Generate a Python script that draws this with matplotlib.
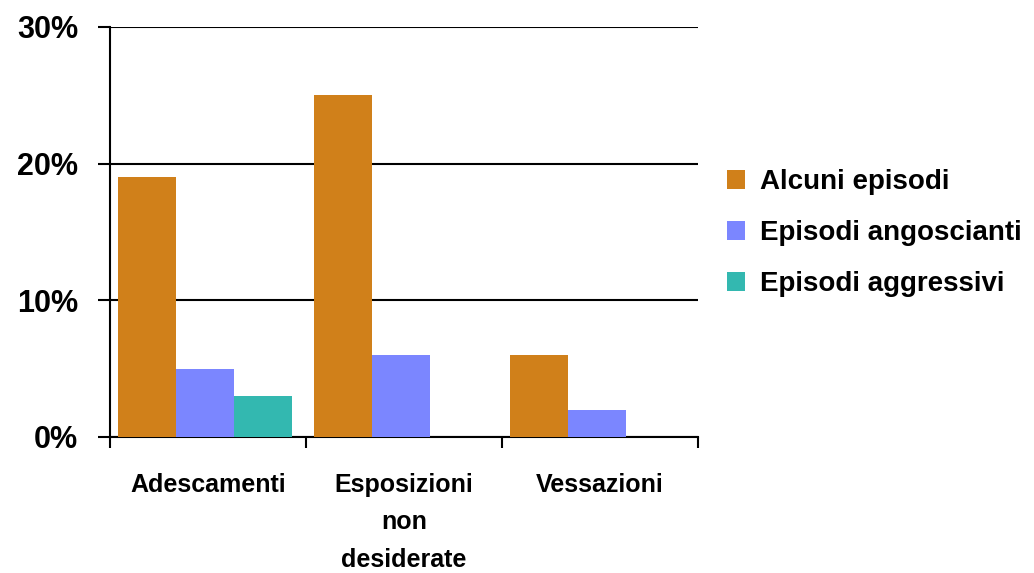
import numpy as np
import matplotlib.pyplot as plt
from matplotlib.ticker import FuncFormatter

categorie = ['Adescamenti', 'Esposizioni\nnon\ndesiderate', 'Vessazioni']
serie = ['Alcuni episodi', 'Episodi angoscianti', 'Episodi aggressivi']
alcuni = [19, 25, 6]
angoscianti = [5, 6, 2]
aggressivi = [3, 0, 0]
colori = ['#D0801A', '#7B86FF', '#33B8B0']

plt.rcParams['font.family'] = ['Liberation Sans', 'DejaVu Sans']
plt.rcParams['font.weight'] = 'bold'

fig = plt.figure(figsize=(10.34, 5.73), dpi=100)
ax = fig.add_axes([110/1034, 1-437/573, 588/1034, 410/573])

x = np.arange(len(categorie))
w = 0.296
for i, (vals, nome) in enumerate(zip([alcuni, angoscianti, aggressivi], serie)):
    ax.bar(x + (i - 1) * w - 0.015, vals, width=w, color=colori[i], label=nome, zorder=3)

ax.set_xlim(-0.5, 2.5)
ax.set_ylim(0, 30)
ax.set_yticks([0, 10, 20, 30])
ax.yaxis.set_major_formatter(FuncFormatter(lambda v, p: f'{v:.0f}%'))
ax.grid(axis='y', color='black', linewidth=1.5, zorder=0)
ax.set_xticks(x)
ax.set_xticklabels(categorie, fontsize=18, linespacing=1.7)
ax.set_xticks([-0.5, 0.5, 1.5, 2.5], minor=True)
ax.tick_params(axis='x', which='major', length=0, pad=26)
ax.tick_params(axis='x', which='minor', length=8, width=1.5, direction='out')
ax.tick_params(axis='y', length=9, width=1.5, labelsize=22, pad=14)
for s in ['top', 'right']:
    ax.spines[s].set_visible(False)
for s in ['left', 'bottom']:
    ax.spines[s].set_linewidth(1.5)

ax.legend(loc='center left', bbox_to_anchor=(1.049, 0.497), frameon=False,
          fontsize=20, handlelength=0.65, handleheight=0.65, handletextpad=0.55,
          labelspacing=0.9, borderpad=0, borderaxespad=0)

fig.savefig('out.png', dpi=100)
